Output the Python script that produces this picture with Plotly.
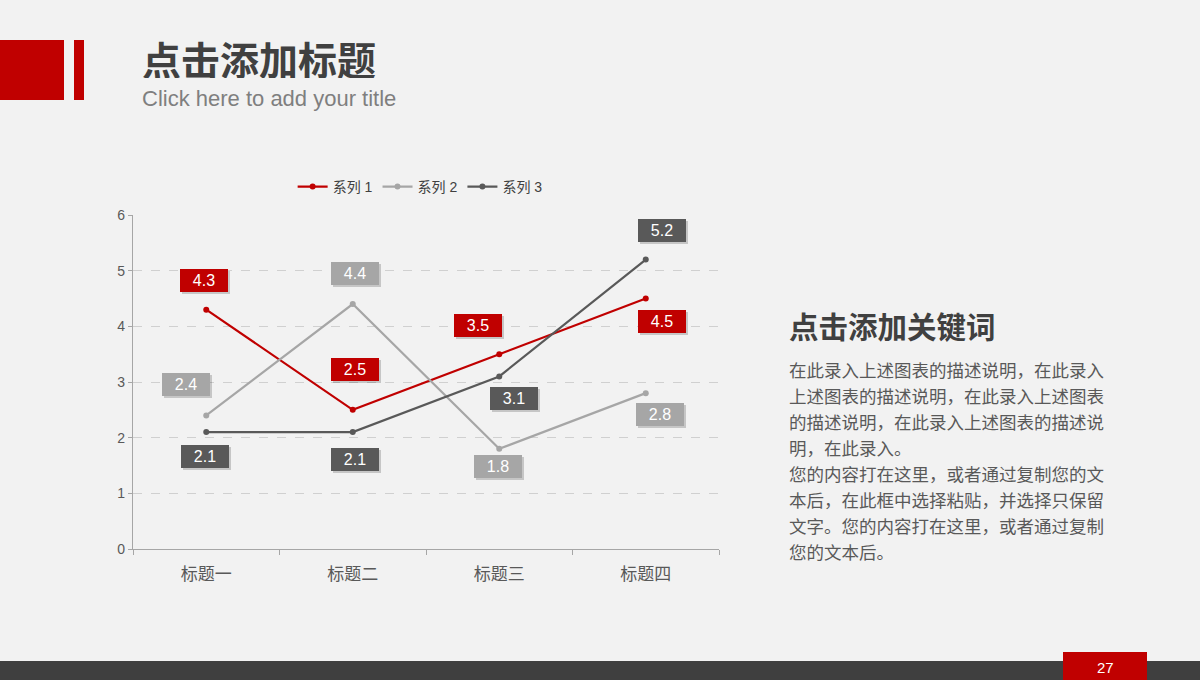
import plotly.graph_objects as go

categories = ["标题一", "标题二", "标题三", "标题四"]
series_names = ["系列 1", "系列 2", "系列 3"]
s1 = [4.3, 2.5, 3.5, 4.5]
s2 = [2.4, 4.4, 1.8, 2.8]
s3 = [2.1, 2.1, 3.1, 5.2]
y_ticks = [0, 1, 2, 3, 4, 5, 6]

title_cn = "点击添加标题"
title_en = "Click here to add your title"
keyword = "点击添加关键词"
body_lines = [
    "在此录入上述图表的描述说明，在此录入",
    "上述图表的描述说明，在此录入上述图表",
    "的描述说明，在此录入上述图表的描述说",
    "明，在此录入。",
    "您的内容打在这里，或者通过复制您的文",
    "本后，在此框中选择粘贴，并选择只保留",
    "文字。您的内容打在这里，或者通过复制",
    "您的文本后。",
]
page_no = "27"

# styles
colors = ["#C00000", "#A6A6A6", "#595959"]
# label pixel offsets (dx, dy) per series/point
label_offsets = [
    [(-2, 29), (2, 40), (-21, 29), (16, -23)],
    [(-20, 31), (2, 31), (-1, -18), (14, -21)],
    [(-1, -24), (2, -27), (15, -22), (16, 29)],
]

W, H = 1200, 680
L, R, T, B = 133, 719, 215, 549
FONT = "Arial, 'Liberation Sans', 'Noto Sans CJK SC', sans-serif"
CJK = "'Noto Sans CJK SC', 'Microsoft YaHei', sans-serif"


def px(x):
    return (x - L) / (R - L)


def py(y):
    return (B - y) / (B - T)


fig = go.Figure()
for name, vals, c in zip(series_names, [s1, s2, s3], colors):
    fig.add_trace(go.Scatter(
        x=categories, y=vals, name=name, mode="lines+markers",
        line=dict(color=c, width=2.2),
        marker=dict(color=c, size=6),
    ))

annotations = []
for vals, c, offs in zip([s1, s2, s3], colors, label_offsets):
    for cat, v, (dx, dy) in zip(categories, vals, offs):
        # shadow
        annotations.append(dict(
            x=cat, y=v, xref="x", yref="y", text="", showarrow=False,
            xshift=dx + 2, yshift=dy - 2, width=46, height=21, borderpad=1,
            bgcolor="rgba(0,0,0,0.18)", borderwidth=0,
        ))
        annotations.append(dict(
            x=cat, y=v, xref="x", yref="y", text=f"{v:.1f}", showarrow=False,
            xshift=dx, yshift=dy, width=46, height=21, borderpad=1,
            bgcolor=c, borderwidth=0,
            font=dict(family=FONT, size=16, color="white"),
        ))

# header texts
annotations.append(dict(
    x=px(140), y=py(58), xref="paper", yref="paper", text=f"<b>{title_cn}</b>",
    showarrow=False, xanchor="left", yanchor="middle", height=40,
    font=dict(family=CJK, size=39, color="#404040"),
))
annotations.append(dict(
    x=px(140), y=py(98), xref="paper", yref="paper", text=title_en,
    showarrow=False, xanchor="left", yanchor="middle", height=26,
    font=dict(family=FONT, size=22, color="#7F7F7F"),
))
annotations.append(dict(
    x=px(787), y=py(325), xref="paper", yref="paper", text=f"<b>{keyword}</b>",
    showarrow=False, xanchor="left", yanchor="middle",
    font=dict(family=CJK, size=29.5, color="#404040"),
))
for i, line in enumerate(body_lines):
    annotations.append(dict(
        x=px(787), y=py(369 + 26 * i), xref="paper", yref="paper", text=line,
        showarrow=False, xanchor="left", yanchor="middle",
        font=dict(family=CJK, size=17.5, color="#595959"),
    ))
annotations.append(dict(
    x=px(1105), y=py(667), xref="paper", yref="paper", text=page_no,
    showarrow=False, xanchor="center", yanchor="middle",
    font=dict(family=FONT, size=15, color="white"),
))

shapes = [
    dict(type="rect", xref="paper", yref="paper", x0=px(0), x1=px(64), y0=py(40), y1=py(100),
         fillcolor="#C00000", line=dict(width=0)),
    dict(type="rect", xref="paper", yref="paper", x0=px(74), x1=px(84), y0=py(40), y1=py(100),
         fillcolor="#C00000", line=dict(width=0)),
    dict(type="rect", xref="paper", yref="paper", x0=px(0), x1=px(1200), y0=py(661), y1=py(680),
         fillcolor="#3F3F3F", line=dict(width=0)),
    dict(type="rect", xref="paper", yref="paper", x0=px(1063), x1=px(1147), y0=py(652), y1=py(680),
         fillcolor="#C00000", line=dict(width=0)),
]

fig.update_layout(
    width=W, height=H,
    margin=dict(l=L, r=W - R, t=T, b=H - B, pad=0),
    paper_bgcolor="#F2F2F2", plot_bgcolor="#F2F2F2",
    font=dict(family=FONT, color="#595959"),
    showlegend=True,
    legend=dict(orientation="h", x=0.49, xanchor="center", y=1.084, yanchor="middle",
                font=dict(family=FONT, size=14, color="#404040"),
                itemwidth=30, tracegroupgap=0, bgcolor="rgba(0,0,0,0)"),
    annotations=annotations,
    shapes=shapes,
    xaxis=dict(
        type="category", range=[-0.5, 3.5], showgrid=False, zeroline=False,
        showline=True, linecolor="#A6A6A6", linewidth=1.3,
        ticks="outside", tickson="boundaries", ticklen=5, tickcolor="#A6A6A6",
        ticklabelstandoff=9,
        tickfont=dict(family=CJK, size=17, color="#595959"),
    ),
    yaxis=dict(
        range=[0, 6], tickvals=y_ticks, showgrid=True, gridcolor="#D0D0D0",
        griddash="dash", gridwidth=1, zeroline=False,
        showline=True, linecolor="#A6A6A6", linewidth=1.3,
        ticks="outside", ticklen=4, tickcolor="#A6A6A6",
        tickfont=dict(family=FONT, size=14, color="#595959"),
    ),
)

fig.write_html("out.html")
